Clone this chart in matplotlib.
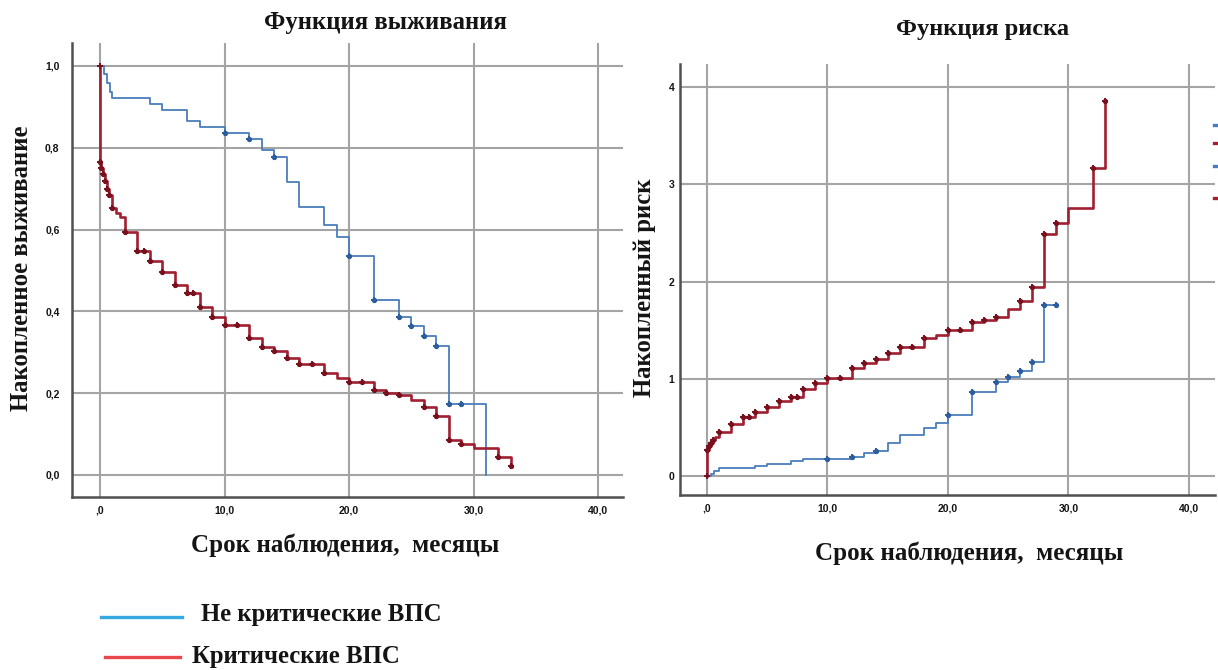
import numpy as np
import matplotlib
matplotlib.use("Agg")
import matplotlib.pyplot as plt
from matplotlib.lines import Line2D

# ---- Kaplan-Meier survival, months of follow-up ----
# non-critical congenital heart defects
ncs_t = [0, 0.3, 0.55, 0.8, 1.0, 4, 5, 7, 8, 10, 12, 13, 14, 15, 16, 18, 19, 20,
         22, 24, 25, 26, 27, 28, 31]
ncs_s = [1.0, 0.98, 0.958, 0.937, 0.921, 0.906, 0.892, 0.866, 0.850, 0.837, 0.821,
         0.795, 0.778, 0.717, 0.656, 0.612, 0.582, 0.535, 0.427, 0.387, 0.364, 0.340,
         0.314, 0.174, 0.0]
ncs_cens = [10, 12, 14, 20, 22, 24, 25, 26, 27, 28, 29]

# critical congenital heart defects
cs_t = [0, 0, 0.1, 0.25, 0.4, 0.55, 0.75, 0.95, 1.3, 1.6, 2, 3, 4, 5, 6, 7, 8, 9, 10,
        12, 13, 14, 15, 16, 18, 19, 20, 22, 23, 24, 25, 26, 27, 28, 29, 30, 32, 33]
cs_s = [1.0, 0.766, 0.750, 0.735, 0.718, 0.700, 0.685, 0.652, 0.640, 0.630, 0.595,
        0.548, 0.522, 0.496, 0.465, 0.445, 0.410, 0.387, 0.367, 0.334, 0.313, 0.302,
        0.285, 0.272, 0.248, 0.237, 0.226, 0.208, 0.201, 0.195, 0.182, 0.165, 0.145,
        0.085, 0.075, 0.065, 0.044, 0.022]
cs_cens = [0, 0.1, 0.25, 0.4, 0.55, 0.75, 0.95, 2, 3, 3.5, 4, 5, 6, 7, 7.5, 8, 9, 10,
           11, 12, 13, 14, 15, 16, 17, 18, 20, 21, 22, 23, 24, 26, 27, 28, 29, 32, 33]

# ---- cumulative hazard ----
nch_t = [0, 0.3, 0.6, 1.0, 4, 5, 7, 8, 10, 12, 13, 14, 15, 16, 18, 19, 20, 22, 24,
         25, 26, 27, 28, 29]
nch_h = [0, 0.025, 0.05, 0.08, 0.10, 0.12, 0.155, 0.175, 0.18, 0.20, 0.235, 0.255,
         0.335, 0.425, 0.495, 0.55, 0.63, 0.865, 0.965, 1.02, 1.085, 1.17, 1.755, 1.755]
nch_cens = [10, 12, 14, 20, 22, 24, 25, 26, 27, 28, 29]

ch_t = [0, 0, 0.15, 0.3, 0.5, 0.7, 1.0, 2, 3, 4, 5, 6, 7, 8, 9, 10, 12, 13, 14, 15,
        16, 18, 19, 20, 22, 23, 24, 25, 26, 27, 28, 29, 30, 32, 33]
ch_h = [0, 0.27, 0.31, 0.34, 0.37, 0.40, 0.45, 0.53, 0.605, 0.655, 0.71, 0.775, 0.815,
        0.89, 0.96, 1.01, 1.11, 1.165, 1.20, 1.265, 1.325, 1.415, 1.447, 1.505, 1.58,
        1.605, 1.64, 1.715, 1.805, 1.945, 2.49, 2.60, 2.76, 3.17, 3.86]
ch_cens = [0, 0.15, 0.3, 0.5, 1, 2, 3, 3.5, 4, 5, 6, 7, 7.5, 8, 9, 10, 11, 12, 13, 14,
           15, 16, 17, 18, 20, 21, 22, 23, 24, 26, 27, 28, 29, 32, 33]

x_ticks = [0, 10, 20, 30, 40]
x_ticklabels = [",0", "10,0", "20,0", "30,0", "40,0"]
surv_ticks = [0.0, 0.2, 0.4, 0.6, 0.8, 1.0]
surv_ticklabels = ["0,0", "0,2", "0,4", "0,6", "0,8", "1,0"]
haz_ticks = [0, 1, 2, 3, 4]
haz_ticklabels = ["0", "1", "2", "3", "4"]

legend_labels = ["Не критические ВПС", "Критические ВПС"]
titles = ["Функция выживания", "Функция риска"]
ylabels = ["Накопленное выживание", "Накопленный риск"]
xlabel = "Срок наблюдения,  месяцы"

BLUE = "#4a7dbb"
BLUE_MK = "#2c5d9c"
RED = "#a01f30"
RED_MK = "#78101e"
GRID = "#a4a4a4"
SPINE = "#505050"
TXT = "#141414"
SERIF = ["Liberation Serif", "DejaVu Serif"]
NARROW = ["Liberation Sans Narrow", "Liberation Sans", "DejaVu Sans"]

W, H = 1218, 670
fig = plt.figure(figsize=(W / 100, H / 100), dpi=100)
fig.patch.set_facecolor("white")


def px_rect(x0, y0, x1, y1):
    return [x0 / W, 1 - y1 / H, (x1 - x0) / W, (y1 - y0) / H]


def step_value(t, v, when):
    idx = np.searchsorted(np.asarray(t), when, side="right") - 1
    return np.asarray(v)[np.clip(idx, 0, len(v) - 1)]


def style_axes(ax, yticks, yticklabels, ypad):
    for s in ["top", "right"]:
        ax.spines[s].set_visible(False)
    for s in ["left", "bottom"]:
        ax.spines[s].set_color(SPINE)
        ax.spines[s].set_linewidth(1.8)
    ax.set_xticks(x_ticks)
    ax.set_xticklabels(x_ticklabels)
    ax.set_yticks(yticks)
    ax.set_yticklabels(yticklabels)
    ax.tick_params(axis="both", length=0, labelsize=7.5, colors=TXT)
    ax.tick_params(axis="y", pad=ypad)
    ax.tick_params(axis="x", pad=6)
    for lab in ax.get_xticklabels() + ax.get_yticklabels():
        lab.set_family(NARROW)
        lab.set_fontweight("bold")
    ax.grid(True, color=GRID, linewidth=1.5)
    ax.set_axisbelow(True)


def draw_curve(ax, t, v, cens, color, mcolor, lw, end=None):
    tt = list(t)
    vv = list(v)
    if end is not None:
        tt.append(end)
        vv.append(vv[-1])
    ax.step(tt, vv, where="post", color=color, linewidth=lw, zorder=3)
    cy = step_value(t, v, np.asarray(cens, dtype=float))
    ax.plot(cens, cy, linestyle="none", marker="+", markersize=5, mew=1.4,
            color=mcolor, zorder=4)
    ax.plot(cens, cy, linestyle="none", marker="o", markersize=2.8,
            color=mcolor, zorder=4)
    ax.plot([t[0]], [v[0]], linestyle="none", marker="+", markersize=5, mew=1.4,
            color=mcolor, zorder=4)


# ---- survival panel ----
ax1 = fig.add_axes(px_rect(72, 43, 623, 497))
ax1.set_xlim(-2.25, 42.0)
ax1.set_ylim(-0.054, 1.056)
style_axes(ax1, surv_ticks, surv_ticklabels, 9)
draw_curve(ax1, ncs_t, ncs_s, ncs_cens, BLUE, BLUE_MK, 1.3)
draw_curve(ax1, cs_t, cs_s, cs_cens, RED, RED_MK, 1.9, end=33)

# ---- hazard panel ----
ax2 = fig.add_axes(px_rect(680, 64, 1215, 495))
ax2.set_xlim(-2.24, 42.16)
ax2.set_ylim(-0.195, 4.237)
style_axes(ax2, haz_ticks, haz_ticklabels, 4)
draw_curve(ax2, nch_t, nch_h, nch_cens, BLUE, BLUE_MK, 1.3)
draw_curve(ax2, ch_t, ch_h, ch_cens, RED, RED_MK, 1.9)

# titles and axis labels
def ftext(x, y, s, size, rot=0, ha="center"):
    fig.text(x / W, 1 - y / H, s, fontsize=size, fontweight="bold", family=SERIF,
             color=TXT, ha=ha, va="center", rotation=rot)

ftext(385, 22, titles[0], 17.8)
ftext(983, 30, titles[1], 17.6)
ftext(22, 268, ylabels[0], 17.8, rot=90)
ftext(645, 288, ylabels[1], 17.8, rot=90)
ftext(345, 545, xlabel, 18)
ftext(969, 553, xlabel, 18)

# clipped legend keys at the right edge of the hazard panel
for yk, ck in zip([125, 143, 166, 198], [BLUE, RED, BLUE, RED]):
    fig.add_artist(Line2D([1214 / W, 1218 / W], [1 - yk / H, 1 - yk / H],
                          color=ck, linewidth=2.4))

# group legend below the charts
fig.add_artist(Line2D([101 / W, 182 / W], [1 - 617 / H, 1 - 617 / H],
                      color="#35a8e0", linewidth=2.4))
fig.add_artist(Line2D([105 / W, 180 / W], [1 - 657 / H, 1 - 657 / H],
                      color="#e8474b", linewidth=2.4))
ftext(201, 615, legend_labels[0], 17.8, ha="left")
ftext(192, 656, legend_labels[1], 17.8, ha="left")

fig.savefig("out.png", dpi=100, facecolor="white")
